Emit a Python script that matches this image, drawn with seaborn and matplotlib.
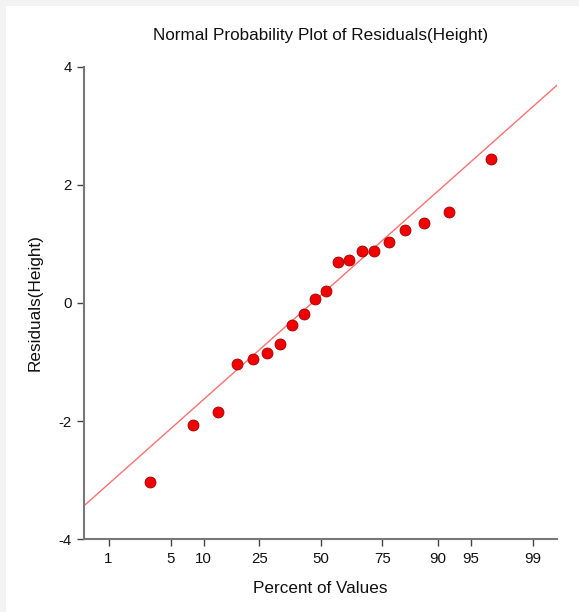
#!/usr/bin/env python

from statistics import NormalDist

import matplotlib
matplotlib.use("Agg")
import matplotlib.pyplot as plt
import numpy as np
import pandas as pd
import seaborn as sns
from matplotlib.patches import Rectangle

# residuals of Height, sorted
residuals = [-3.03, -2.07, -1.84, -1.03, -0.94, -0.84, -0.70, -0.38, -0.18, 0.06,
             0.20, 0.70, 0.72, 0.88, 0.88, 1.03, 1.23, 1.36, 1.54, 2.43]
percent_ticks = [1, 5, 10, 25, 50, 75, 90, 95, 99]
y_ticks = [-4, -2, 0, 2, 4]
line_intercept = 0.13
line_slope = 1.373

nd = NormalDist()
n = len(residuals)
# Blom plotting positions -> normal quantiles
quant = [nd.inv_cdf((i + 1 - 0.375) / (n + 0.25)) for i in range(n)]
df = pd.DataFrame({"z": quant, "resid": sorted(residuals)})

sns.set_theme(style="ticks")
plt.rcParams['font.family'] = ['Liberation Sans', 'DejaVu Sans']

fig = plt.figure(figsize=(5.79, 6.12), dpi=100)
fig.patch.set_facecolor("#f3f3f3")
fig.add_artist(Rectangle((6 / 579, 0), 1, 1 - 6 / 612, transform=fig.transFigure,
                         facecolor="white", edgecolor="none", zorder=-10))
ax = fig.add_axes([84 / 579, 1 - 539.3 / 612, (557.3 - 84) / 579, (539.3 - 66.7) / 612])
ax.set_facecolor("none")

ax.axline((0, line_intercept), slope=line_slope, color="#ff7070", lw=1.0, zorder=1)
sns.scatterplot(data=df, x="z", y="resid", ax=ax, s=62, color="#f20000",
                edgecolor="#a00000", linewidth=0.6, zorder=3, legend=False)

ax.set_xlim(-2.595, 2.594)
ax.set_ylim(-4, 4)
ax.set_xticks([nd.inv_cdf(p / 100) for p in percent_ticks])
ax.set_xticklabels([str(p) for p in percent_ticks])
ax.set_yticks(y_ticks)
ax.set_yticklabels([str(t) for t in y_ticks])

for s in ["top", "right"]:
    ax.spines[s].set_visible(False)
for s in ["left", "bottom"]:
    ax.spines[s].set_color("#777777")
    ax.spines[s].set_linewidth(1.5)
ax.tick_params(axis="both", length=5, width=1.0, color="#444444",
               labelsize=10.8, labelcolor="#111111", pad=4)

ax.set_xlabel("Percent of Values", fontsize=12.3, color="#111111", labelpad=11)
ax.set_ylabel("Residuals(Height)", fontsize=12.3, color="#111111", labelpad=11)
ax.set_title("Normal Probability Plot of Residuals(Height)", fontsize=12.3,
             color="#111111", pad=19)

plt.savefig("out.png", dpi=100)
